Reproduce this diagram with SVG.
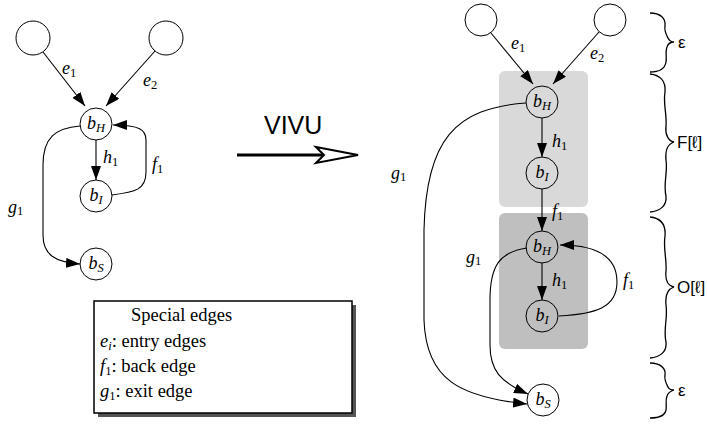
<svg xmlns="http://www.w3.org/2000/svg" width="707" height="425" viewBox="0 0 707 425">
<style>
.c{fill:none;stroke:#000;stroke-width:1}
.e{fill:none;stroke:#000;stroke-width:1.1;marker-end:url(#ah)}
.br{fill:none;stroke:#000;stroke-width:1.3}
.t{font-family:"Liberation Serif","Times New Roman",serif;font-size:18px;fill:#000}
.lg{font-size:18.5px}
.i{font-style:italic}
.s{font-size:12.5px}
.n{font-style:normal}
.sans{font-family:"Liberation Sans","DejaVu Sans",sans-serif;fill:#000}
</style>
<defs>
<marker id="ah" viewBox="0 0 14 10" refX="14" refY="5" markerWidth="14" markerHeight="10" markerUnits="userSpaceOnUse" orient="auto">
<path d="M0,0 L14,5 L0,10 Z" fill="#000"/>
</marker>
</defs>
<rect width="707" height="425" fill="#fff"/>

<!-- shaded regions -->
<g id="regionF"><rect x="499" y="71" width="89" height="136" rx="6" fill="#d9d9d9"/></g>
<g id="regionO"><rect x="499" y="213" width="89" height="136" rx="6" fill="#bfbfbf"/></g>

<!-- left graph nodes -->
<g id="L_top1"><circle class="c" cx="33" cy="38" r="17"/></g>
<g id="L_top2"><circle class="c" cx="166" cy="38" r="17"/></g>
<g id="L_bH"><circle class="c" cx="96" cy="124" r="16"/><text class="t i" x="96" y="129" text-anchor="middle">b<tspan class="s" dy="3">H</tspan></text></g>
<g id="L_bI"><circle class="c" cx="96" cy="196" r="16"/><text class="t i" x="96" y="201" text-anchor="middle">b<tspan class="s" dy="3">I</tspan></text></g>
<g id="L_bS"><circle class="c" cx="96" cy="264" r="16"/><text class="t i" x="96" y="269" text-anchor="middle">b<tspan class="s" dy="3">S</tspan></text></g>

<!-- right graph nodes -->
<g id="R_top1"><circle class="c" cx="481" cy="20" r="16"/></g>
<g id="R_top2"><circle class="c" cx="610" cy="20" r="16"/></g>
<g id="R_bH1"><circle class="c" cx="542" cy="102" r="16"/><text class="t i" x="542" y="107" text-anchor="middle">b<tspan class="s" dy="3">H</tspan></text></g>
<g id="R_bI1"><circle class="c" cx="542" cy="173" r="16"/><text class="t i" x="542" y="178" text-anchor="middle">b<tspan class="s" dy="3">I</tspan></text></g>
<g id="R_bH2"><circle class="c" cx="542" cy="247" r="16"/><text class="t i" x="542" y="252" text-anchor="middle">b<tspan class="s" dy="3">H</tspan></text></g>
<g id="R_bI2"><circle class="c" cx="542" cy="316" r="16"/><text class="t i" x="542" y="321" text-anchor="middle">b<tspan class="s" dy="3">I</tspan></text></g>
<g id="R_bS"><circle class="c" cx="543" cy="400" r="16"/><text class="t i" x="543" y="405" text-anchor="middle">b<tspan class="s" dy="3">S</tspan></text></g>

<!-- connectors -->
<g id="connectors">
<path class="e" d="M43,52 L85,106"/>
<path class="e" d="M155,51 L106,106"/>
<path class="e" d="M96,140 L96,180"/>
<path class="e" d="M112,195 C135,192 146,190 146,172 L146,140 C146,130 140,125 113,125"/>
<path class="e" d="M80,126 C55,128 43,138 43,165 L43,235 C43,255 55,262 80,264"/>

<path class="e" d="M491,33 L533,84"/>
<path class="e" d="M599,32 L553,84"/>
<path class="e" d="M542,118 L542,157"/>
<path class="e" d="M542,189 L542,231"/>
<path class="e" d="M542,263 L542,300"/>
<path class="e" d="M559,316 C595,314 617,308 617,282 C617,258 600,245 560,245"/>
<path class="e" d="M526,103 C455,108 426,140 424,230 L424,320 C426,380 460,397 527,404"/>
<path class="e" d="M527,248 C500,252 490,265 490,300 L490,345 C490,370 500,382 528,394"/>

<!-- VIVU arrow -->
<path d="M237,155 L326,155" stroke="#000" stroke-width="3" fill="none"/>
<path d="M316,147 L358,155 L316,163 L324,155 Z" fill="#fff" stroke="#000" stroke-width="2" stroke-linejoin="miter"/>
</g>

<!-- edge labels -->
<g id="labels">
<text class="t i" x="62" y="74">e<tspan class="s n" dy="3">1</tspan></text>
<text class="t i" x="143" y="86">e<tspan class="s n" dy="3">2</tspan></text>
<text class="t i" x="103" y="163">h<tspan class="s n" dy="3">1</tspan></text>
<text class="t i" x="152" y="170">f<tspan class="s n" dy="3">1</tspan></text>
<text class="t i" x="8" y="213">g<tspan class="s n" dy="2">1</tspan></text>

<text class="t i" x="511" y="49">e<tspan class="s n" dy="3">1</tspan></text>
<text class="t i" x="590" y="59">e<tspan class="s n" dy="3">2</tspan></text>
<text class="t i" x="552" y="147">h<tspan class="s n" dy="3">1</tspan></text>
<text class="t i" x="552" y="217">f<tspan class="s n" dy="3">1</tspan></text>
<text class="t i" x="552" y="286">h<tspan class="s n" dy="3">1</tspan></text>
<text class="t i" x="623" y="286">f<tspan class="s n" dy="3">1</tspan></text>
<text class="t i" x="391" y="179">g<tspan class="s n" dy="2">1</tspan></text>
<text class="t i" x="466" y="263">g<tspan class="s n" dy="2">1</tspan></text>

<text class="sans" x="264" y="134" font-size="25">VIVU</text>
</g>

<!-- braces -->
<g id="braces">
<path class="br" d="M650,13 C660,13 666,18 665,26 C664,31 667,36 668,38 C669,40 671,42 674,42 C671,42 668,44 667,47 C665,52 667,58 666,62 C665,68 660,72 650,72"/>
<path class="br" d="M650,74 C660,75 666,81 665,92 C663,104 667,114 666,126 C665,134 668,141 674,142 C668,144 665,150 666,160 C668,172 663,184 666,196 C667,206 660,211 650,212"/>
<path class="br" d="M650,217 C660,218 666,224 665,236 C663,248 667,260 666,271 C665,280 668,286 674,287 C668,289 665,295 666,305 C668,318 663,330 666,342 C667,352 660,357 650,358"/>
<path class="br" d="M650,363 C660,363 666,368 665,375 C664,380 667,385 668,387 C669,389 671,390 674,390 C671,391 668,393 667,396 C665,401 667,406 666,410 C665,415 660,418 650,418"/>
<text class="sans" x="678" y="48" font-size="17">ε</text>
<text class="sans" x="677" y="148" font-size="17">F[ℓ]</text>
<text class="sans" x="677" y="293" font-size="17">O[ℓ]</text>
<text class="sans" x="678" y="396" font-size="17">ε</text>
</g>

<!-- legend -->
<g id="legend">
<rect x="98" y="305" width="258" height="112" fill="#555"/>
<rect x="94" y="301" width="258" height="112" fill="#fff" stroke="#000" stroke-width="1.5"/>
<text class="t lg" x="131" y="321">Special edges</text>
<text class="t lg" x="100" y="347"><tspan class="i">e</tspan><tspan class="s i" dy="3">i</tspan><tspan dy="-3">: entry edges</tspan></text>
<text class="t lg" x="100" y="372"><tspan class="i">f</tspan><tspan class="s" dy="3">1</tspan><tspan dy="-3">: back edge</tspan></text>
<text class="t lg" x="100" y="397"><tspan class="i">g</tspan><tspan class="s" dy="3">1</tspan><tspan dy="-3">: exit edge</tspan></text>
</g>
</svg>
